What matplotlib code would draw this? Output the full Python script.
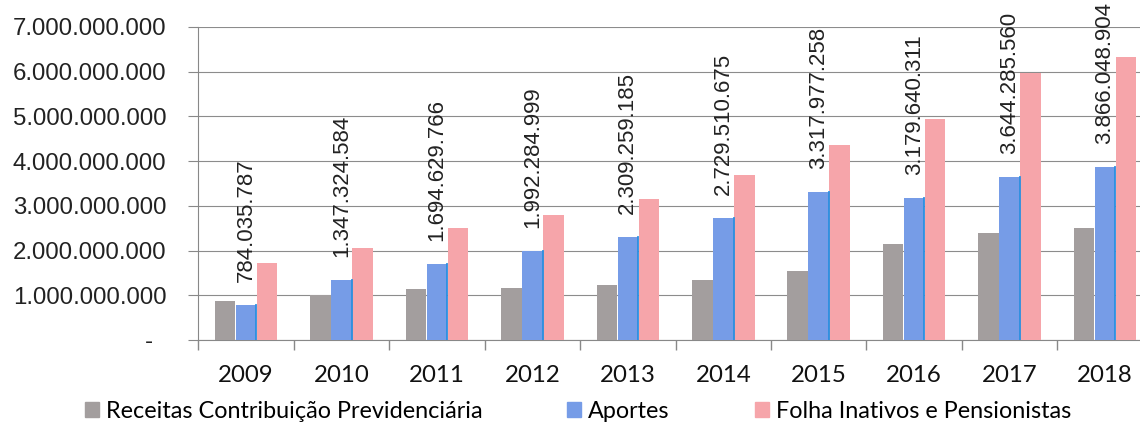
import numpy as np
import matplotlib.pyplot as plt
from matplotlib.patches import Patch

anos = ['2009', '2010', '2011', '2012', '2013', '2014', '2015', '2016', '2017', '2018']
receitas = [0.87e9, 1.00e9, 1.14e9, 1.16e9, 1.24e9, 1.35e9, 1.54e9, 2.14e9, 2.40e9, 2.51e9]
aportes = [784035787, 1347324584, 1694629766, 1992284999, 2309259185,
           2729510675, 3317977258, 3179640311, 3644285560, 3866048904]
folha = [1.72e9, 2.06e9, 2.50e9, 2.80e9, 3.15e9, 3.68e9, 4.35e9, 4.95e9, 5.96e9, 6.32e9]
yticks = [0, 1e9, 2e9, 3e9, 4e9, 5e9, 6e9, 7e9]

c_gray = '#a39e9e'
c_blue = '#769ce7'
c_pink = '#f6a5aa'


def fmt(v):
    return f'{int(v):,}'.replace(',', '.')


fig = plt.figure(figsize=(11.4, 4.25), dpi=100)
ax = fig.add_axes([0.174, 0.2, 0.8372, 0.7365])

x = np.arange(len(anos))
w = 0.215
ax.bar(x - 0.22, receitas, w, color=c_gray, zorder=3)
bars = ax.bar(x, aportes, w, color=c_blue, zorder=3)
ax.bar(x + 0.22, folha, w, color=c_pink, zorder=3)

# thin darker edge on the right of the blue bars
for b in bars:
    xr = b.get_x() + b.get_width()
    ax.plot([xr, xr], [0, b.get_height()], color='#2a8fe0', lw=1.3, zorder=4)

for b, v in zip(bars, aportes):
    ax.annotate(fmt(v), (b.get_x() + b.get_width() / 2, v), xytext=(0, 16.5),
                textcoords='offset points', rotation=90, ha='center', va='bottom',
                fontsize=16, family='Liberation Sans', color='#222222', zorder=5)

ax.set_xlim(-0.5, len(anos) - 0.5)
ax.set_ylim(0, 7e9)

ax.set_yticks(yticks)
ax.set_yticklabels(['-  '] + [fmt(t) for t in yticks[1:]],
                   family='Liberation Sans', fontsize=17.3, color='#222222')
ax.tick_params(axis='y', length=7, color='#888888', pad=16)

ax.set_xticks(x)
ax.set_xticklabels(anos, family='Lato', fontsize=17.3, color='#111111')
ax.set_xticks(np.arange(len(anos) + 1) - 0.5, minor=True)
ax.tick_params(axis='x', which='major', length=0, pad=18)
ax.tick_params(axis='x', which='minor', length=7, color='#888888', width=1)

ax.grid(axis='y', color='#8c8c8c', lw=0.8, zorder=0)
for s in ['top', 'right']:
    ax.spines[s].set_visible(False)
ax.spines['left'].set_color('#888888')
ax.spines['bottom'].set_color('#888888')

handles = [Patch(color=c_gray), Patch(color=c_blue), Patch(color=c_pink)]
labels = ['Receitas Contribuição Previdenciária', 'Aportes', 'Folha Inativos e Pensionistas']
fig.legend(handles, labels, loc='center', bbox_to_anchor=(0.507, 0.032), ncol=3,
           frameon=False, prop={'family': 'Lato', 'size': 16.8},
           handlelength=0.6, handleheight=0.6, handletextpad=0.3,
           columnspacing=3.65, borderpad=0)

fig.savefig('out.png', dpi=100)
